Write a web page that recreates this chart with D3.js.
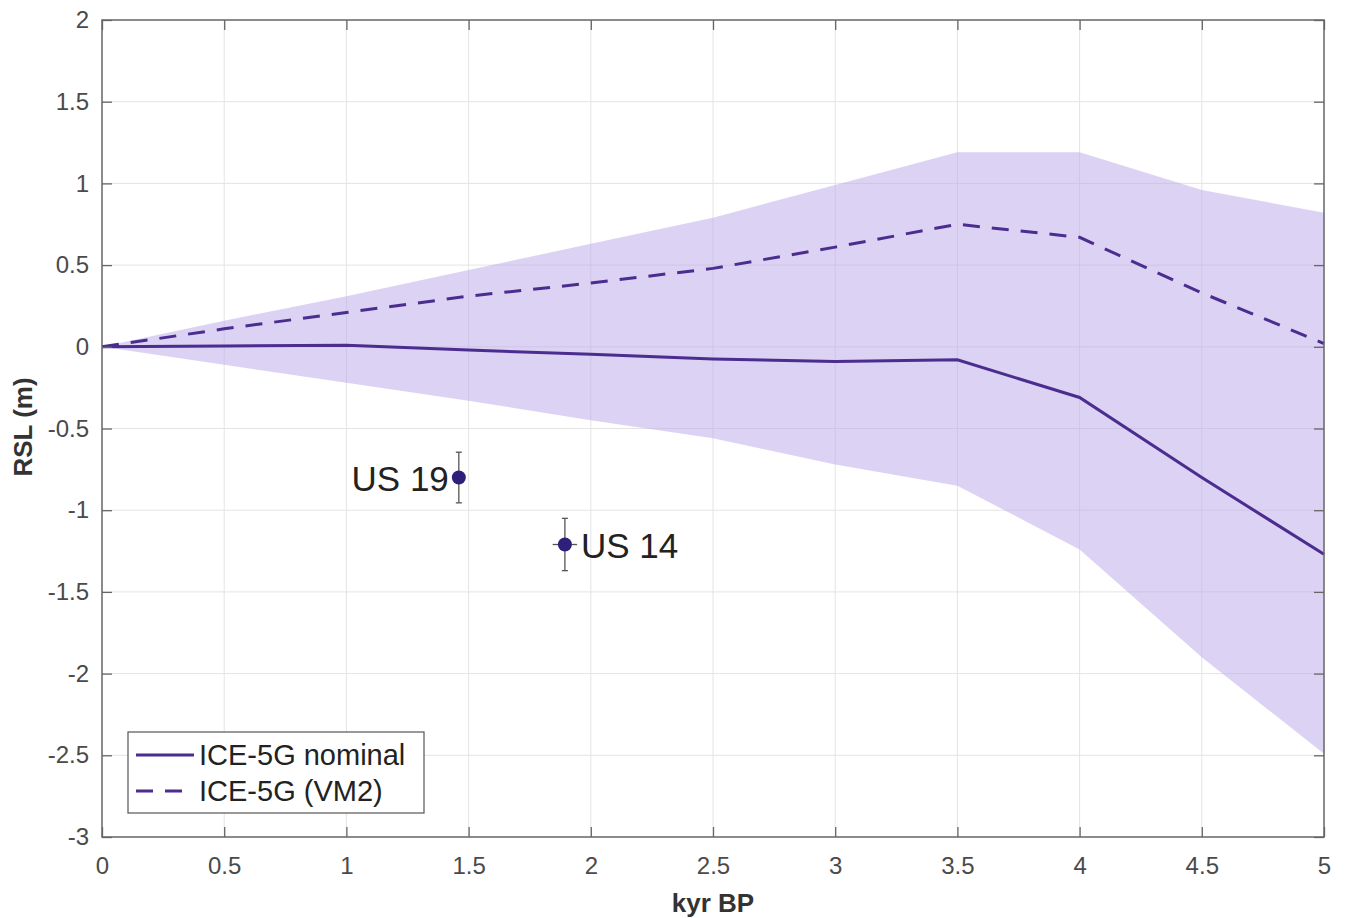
<!DOCTYPE html>
<html>
<head>
<meta charset="utf-8">
<script src="https://cdn.jsdelivr.net/npm/d3@7"></script>
<style>
  body { margin: 0; background: #fff; }
  svg { font-family: "Liberation Sans", Arial, sans-serif; }
</style>
</head>
<body>
<div id="chart"></div>
<script>
// data
const kyr = [0, 0.5, 1, 1.5, 2, 2.5, 3, 3.5, 4, 4.5, 5];
const nominal = [0, 0.005, 0.01, -0.02, -0.045, -0.075, -0.09, -0.08, -0.31, -0.8, -1.27];
const vm2 = [0, 0.11, 0.21, 0.31, 0.39, 0.48, 0.61, 0.75, 0.67, 0.33, 0.02];
const bandUpper = [0, 0.16, 0.31, 0.47, 0.63, 0.79, 0.99, 1.19, 1.19, 0.96, 0.82];
const bandLower = [0, -0.11, -0.22, -0.33, -0.45, -0.56, -0.72, -0.85, -1.24, -1.9, -2.49];

const obsNames = ["US 19", "US 14"];
const obsX = [1.46, 1.894];
const obsY = [-0.8, -1.21];
const obsErrY = [0.155, 0.16];
const obsErrX = [0, 0.05];

const xTicks = [0, 0.5, 1, 1.5, 2, 2.5, 3, 3.5, 4, 4.5, 5];
const yTicks = [2, 1.5, 1, 0.5, 0, -0.5, -1, -1.5, -2, -2.5, -3];

const W = 1347, H = 918;
const margin = {left: 102, right: 23, top: 20, bottom: 81};
const iw = W - margin.left - margin.right,
      ih = H - margin.top - margin.bottom;

const lineCol = "#4b2d8f";
const fmt = d => String(d);   // plain hyphen for negatives, like the original

const svg = d3.select("#chart").append("svg")
  .attr("width", W)
  .attr("height", H);

const x = d3.scaleLinear().domain([0, 5]).range([0, iw]);
const y = d3.scaleLinear().domain([-3, 2]).range([ih, 0]);

const g = svg.append("g")
  .attr("transform", `translate(${margin.left},${margin.top})`);

// grid
g.append("g").selectAll("line")
  .data(xTicks.slice(1, -1))
  .join("line")
  .attr("x1", d => x(d)).attr("x2", d => x(d))
  .attr("y1", 0).attr("y2", ih)
  .attr("stroke", "#e4e4e4").attr("stroke-width", 1);
g.append("g").selectAll("line")
  .data(yTicks.slice(1, -1))
  .join("line")
  .attr("y1", d => y(d)).attr("y2", d => y(d))
  .attr("x1", 0).attr("x2", iw)
  .attr("stroke", "#e4e4e4").attr("stroke-width", 1);

// uncertainty band
const bandData = kyr.map((k, i) => ({k, lo: bandLower[i], hi: bandUpper[i]}));
g.append("path")
  .datum(bandData)
  .attr("fill", "#b9a6ea")
  .attr("fill-opacity", 0.5)
  .attr("d", d3.area().x(d => x(d.k)).y0(d => y(d.lo)).y1(d => y(d.hi)));

const line = d3.line().x(d => x(d[0])).y(d => y(d[1]));

g.append("path")
  .datum(kyr.map((k, i) => [k, vm2[i]]))
  .attr("fill", "none")
  .attr("stroke", lineCol)
  .attr("stroke-width", 3)
  .attr("stroke-dasharray", "17,12")
  .attr("d", line);

g.append("path")
  .datum(kyr.map((k, i) => [k, nominal[i]]))
  .attr("fill", "none")
  .attr("stroke", lineCol)
  .attr("stroke-width", 3)
  .attr("d", line);

// observations with error bars
const obs = obsNames.map((n, i) => ({n, x: obsX[i], y: obsY[i], ey: obsErrY[i], ex: obsErrX[i]}));
const og = g.append("g").selectAll("g").data(obs).join("g");

og.append("line")
  .attr("x1", d => x(d.x)).attr("x2", d => x(d.x))
  .attr("y1", d => y(d.y - d.ey)).attr("y2", d => y(d.y + d.ey))
  .attr("stroke", "#555").attr("stroke-width", 1.3);
og.append("line")
  .attr("x1", d => x(d.x) - 3).attr("x2", d => x(d.x) + 3)
  .attr("y1", d => y(d.y + d.ey)).attr("y2", d => y(d.y + d.ey))
  .attr("stroke", "#555").attr("stroke-width", 1.3);
og.append("line")
  .attr("x1", d => x(d.x) - 3).attr("x2", d => x(d.x) + 3)
  .attr("y1", d => y(d.y - d.ey)).attr("y2", d => y(d.y - d.ey))
  .attr("stroke", "#555").attr("stroke-width", 1.3);
og.filter(d => d.ex > 0).append("line")
  .attr("x1", d => x(d.x - d.ex)).attr("x2", d => x(d.x + d.ex))
  .attr("y1", d => y(d.y)).attr("y2", d => y(d.y))
  .attr("stroke", "#555").attr("stroke-width", 1.3);

og.append("circle")
  .attr("cx", d => x(d.x)).attr("cy", d => y(d.y))
  .attr("r", 7)
  .attr("fill", "#2e1f7a");

og.append("text")
  .attr("x", (d, i) => i === 0 ? x(d.x) - 10 : x(d.x) + 16)
  .attr("y", d => y(d.y) + 13)
  .attr("text-anchor", (d, i) => i === 0 ? "end" : "start")
  .attr("font-size", 35)
  .attr("fill", "#222")
  .text(d => d.n);

// axes (box with inward ticks on all sides)
function styleAxis(sel) {
  sel.select(".domain").remove();
  sel.selectAll(".tick line").attr("stroke", "#666").attr("stroke-width", 1.3);
  sel.selectAll(".tick text").attr("fill", "#4a4a4a").attr("font-size", 24)
    .attr("font-family", "Liberation Sans, Arial, sans-serif");
}

g.append("g")
  .attr("transform", `translate(0,${ih})`)
  .call(d3.axisBottom(x).tickValues(xTicks).tickFormat(fmt).tickSizeInner(-10).tickPadding(20))
  .call(styleAxis);
g.append("g")
  .call(d3.axisLeft(y).tickValues(yTicks).tickFormat(fmt).tickSizeInner(-10).tickPadding(13))
  .call(styleAxis);
g.append("g")
  .call(d3.axisTop(x).tickValues(xTicks).tickFormat("").tickSizeInner(-10))
  .call(styleAxis);
g.append("g")
  .attr("transform", `translate(${iw},0)`)
  .call(d3.axisRight(y).tickValues(yTicks).tickFormat("").tickSizeInner(-10))
  .call(styleAxis);

g.append("rect")
  .attr("width", iw).attr("height", ih)
  .attr("fill", "none")
  .attr("stroke", "#666").attr("stroke-width", 1.5);

// axis labels
svg.append("text")
  .attr("x", margin.left + iw / 2)
  .attr("y", 912)
  .attr("text-anchor", "middle")
  .attr("font-size", 26).attr("font-weight", "bold").attr("fill", "#333")
  .text("kyr BP");

svg.append("text")
  .attr("transform", `translate(32,427) rotate(-90)`)
  .attr("text-anchor", "middle")
  .attr("font-size", 26).attr("font-weight", "bold").attr("fill", "#333")
  .text("RSL (m)");

// legend
const legend = svg.append("g").attr("transform", "translate(128,732)");
legend.append("rect")
  .attr("width", 296).attr("height", 81)
  .attr("fill", "#fff").attr("stroke", "#555").attr("stroke-width", 1.2);
const legItems = [{label: "ICE-5G nominal", dash: null}, {label: "ICE-5G (VM2)", dash: "17,12"}];
const li = legend.selectAll("g.item").data(legItems).join("g")
  .attr("transform", (d, i) => `translate(0,${23 + i * 36})`);
li.append("line")
  .attr("x1", 8).attr("x2", 66)
  .attr("stroke", lineCol).attr("stroke-width", 3)
  .attr("stroke-dasharray", d => d.dash);
li.append("text")
  .attr("x", 71).attr("y", 10)
  .attr("font-size", 29).attr("fill", "#222")
  .text(d => d.label);
</script>
</body>
</html>
